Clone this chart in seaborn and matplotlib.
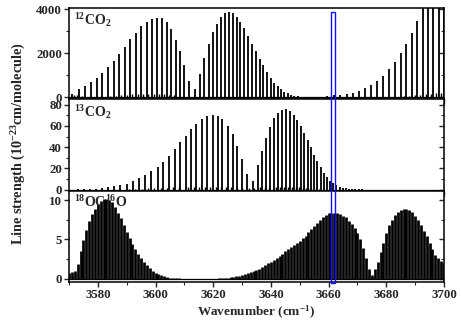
import numpy as np
import matplotlib
matplotlib.use("Agg")
import matplotlib.pyplot as plt
import seaborn as sns
from matplotlib.patches import Rectangle
from matplotlib.transforms import blended_transform_factory
from matplotlib.ticker import MultipleLocator

# ---------------- data ----------------
# 12CO2 strong lines: wavenumber (cm-1), strength (1e-23 cm/molecule)
co2_12_x = [3571.2, 3573.5, 3575.6, 3577.6, 3579.6, 3581.6, 3583.5, 3585.5, 3587.5,
            3589.3, 3591.3, 3593.2, 3595.1, 3597.0, 3598.8, 3600.6, 3602.2, 3603.8,
            3605.4, 3607.0, 3608.6, 3610.0, 3611.7,
            3613.75, 3615.4, 3616.9, 3618.4, 3619.9, 3621.3, 3622.7, 3624.1, 3625.4,
            3626.7, 3628.1, 3629.4, 3630.8, 3632.2, 3633.5, 3634.8, 3636.1, 3637.4,
            3638.6, 3639.9, 3641.2, 3642.3, 3643.5, 3644.6, 3645.8, 3647.0, 3648.1,
            3649.3, 3650.4, 3651.6,
            3657.2, 3659.6, 3661.8, 3664.1, 3666.3, 3668.5, 3670.6, 3672.7, 3674.8,
            3676.8, 3678.9, 3681.0, 3683.1, 3685.0, 3687.0, 3688.9, 3690.7, 3692.6,
            3694.4, 3696.3, 3698.1, 3699.9]
co2_12_y = [170, 395, 530, 697, 894, 1121, 1363, 1651, 1954,
            2288, 2636, 2909, 3227, 3424, 3545, 3590, 3575, 3424,
            3090, 2621, 2091, 1454, 742,
            364, 1076, 1803, 2439, 2970, 3318, 3651, 3802, 3863,
            3833, 3651, 3393, 3121, 2788, 2439, 2106, 1757, 1454,
            1151, 894, 666, 500, 364, 258, 182, 121, 76,
            40, 25, 15,
            30, 60, 90, 121, 152, 212, 303, 424, 576,
            742, 985, 1288, 1621, 2000, 2439, 2939, 3439, 4600,
            5200, 5800, 6300, 6800]
# 12CO2 weak (hot-band) lines near the baseline
co2_12w_x = [3571.9, 3572.8, 3574.5, 3584.3, 3586.2, 3588.1, 3590.0, 3591.9, 3593.8,
             3595.6, 3597.5, 3599.3, 3601.1, 3602.9, 3604.6, 3606.3, 3686.0, 3688.0,
             3689.9, 3691.8, 3693.6, 3695.4, 3697.2, 3699.0]
co2_12w_y = [110, 90, 70, 60, 80, 100, 120, 130, 140,
             150, 150, 145, 140, 130, 110, 90, 60, 80,
             100, 120, 140, 160, 180, 200]

# 13CO2 lines
co2_13_x = [3573.1, 3575.2, 3577.3, 3579.4, 3581.5, 3583.5, 3585.6, 3587.7, 3590.0,
            3592.2, 3594.3, 3596.5, 3598.6, 3600.7, 3602.7, 3604.8, 3606.8, 3608.6,
            3610.5, 3612.4, 3614.2, 3616.1, 3617.9, 3619.8, 3621.5, 3623.2, 3625.0,
            3626.7, 3628.3, 3630.0, 3631.6, 3633.8, 3635.5, 3636.9, 3638.4, 3639.8,
            3641.2, 3642.6, 3644.0, 3645.3, 3646.6, 3647.9, 3649.2, 3650.3, 3651.6,
            3652.7, 3653.9, 3655.0, 3656.1, 3657.2, 3658.3, 3659.4, 3660.5, 3661.6,
            3662.7, 3663.8, 3664.9, 3666.0, 3667.1, 3668.2, 3669.3, 3670.4, 3671.5]
co2_13_y = [0.2, 0.3, 0.45, 0.6, 1.3, 2.2, 3.5, 4.4, 5.7,
            7.9, 10.5, 14.0, 17.1, 21.3, 26.0, 31.4, 37.8, 44.4,
            50.5, 57.5, 61.9, 66.7, 69.5, 70.5, 69.2, 66.3, 60.0,
            52.4, 41.3, 29.2, 14.9, 7.9, 22.9, 36.2, 48.9, 58.7,
            67.0, 72.0, 74.9, 75.5, 73.7, 70.5, 65.4, 59.7, 53.0,
            46.7, 39.7, 33.0, 27.0, 21.0, 16.0, 12.0, 8.5, 6.0,
            4.0, 2.7, 1.8, 1.1, 0.7, 0.4, 0.25, 0.15, 0.1]
co2_13w_x = [3590.8, 3593.0, 3595.2, 3597.4, 3599.6, 3601.8, 3603.9, 3606.0, 3608.1,
             3611.4, 3613.3, 3615.2, 3617.1, 3619.0, 3620.9, 3622.7, 3624.5, 3626.3,
             3628.1, 3629.8, 3632.5, 3634.3, 3636.1, 3637.8, 3639.5, 3641.9, 3643.3,
             3644.7, 3646.0, 3647.3, 3648.6, 3649.9, 3651.1, 3652.3, 3653.5, 3654.6,
             3655.7, 3656.8]
co2_13w_y = [0.6, 0.8, 1.0, 1.2, 1.4, 1.6, 1.8, 2.0, 2.1,
             2.2, 2.4, 2.5, 2.6, 2.6, 2.5, 2.4, 2.2, 2.0,
             1.6, 1.2, 1.3, 1.7, 2.1, 2.4, 2.6, 2.8, 2.8,
             2.7, 2.6, 2.4, 2.2, 2.0, 1.7, 1.4, 1.1, 0.8,
             0.6, 0.4]

# 18OC16O (dense lines), one value per cm-1 from 3570 to 3700
oc_x = list(range(3570, 3701))
oc_y = [0.8, 0.9, 1.0, 1.9, 3.5, 4.9, 6.2, 7.3, 8.2, 8.9,
        9.5, 9.9, 10.1, 10.2, 10.0, 9.7, 9.1, 8.4, 7.7, 6.9,
        6.0, 5.2, 4.4, 3.8, 3.2, 2.6, 2.1, 1.7, 1.35, 1.0,
        0.8, 0.6, 0.45, 0.33, 0.24, 0.17, 0.12, 0.08, 0.06, 0.04,
        0.03, 0.03, 0.02, 0.02, 0.02, 0.02, 0.02, 0.02, 0.02, 0.02,
        0.03, 0.04, 0.06, 0.08, 0.11, 0.15, 0.2, 0.26, 0.33, 0.42,
        0.5, 0.6, 0.72, 0.86, 1.0, 1.15, 1.3, 1.5, 1.7, 1.95,
        2.2, 2.45, 2.7, 2.95, 3.2, 3.5, 3.75, 4.0, 4.3, 4.55,
        4.8, 5.2, 5.5, 5.9, 6.3, 6.7, 7.1, 7.5, 7.8, 8.1,
        8.3, 8.4, 8.4, 8.35, 8.2, 8.0, 7.8, 7.4, 7.0, 6.4,
        5.8, 5.1, 3.9, 2.6, 1.3, 0.5, 1.2, 2.2, 3.4, 4.6,
        5.8, 6.8, 7.5, 8.1, 8.5, 8.8, 8.9, 8.9, 8.7, 8.5,
        8.0, 7.5, 6.9, 6.1, 5.5, 4.6, 3.8, 3.0, 2.6, 2.3,
        2.0]

panel_labels = [r"$^{12}$CO$_2$", r"$^{13}$CO$_2$", r"$^{18}$OC$^{16}$O"]
x_ticks = [3580, 3600, 3620, 3640, 3660, 3680, 3700]
box_range = (3660.7, 3662.1)

# ---------------- style ----------------
sns.set_style("ticks")
plt.rcParams["font.family"] = ["Liberation Serif", "DejaVu Serif"]
plt.rcParams["font.weight"] = "bold"
plt.rcParams["mathtext.fontset"] = "custom"
plt.rcParams["mathtext.rm"] = "Liberation Serif:bold"
plt.rcParams["mathtext.it"] = "Liberation Serif:bold"
plt.rcParams["mathtext.bf"] = "Liberation Serif:bold"
plt.rcParams["mathtext.default"] = "rm"

W, H = 461, 323
fig = plt.figure(figsize=(W / 100, H / 100), dpi=100)
left, right = 69 / W, 444 / W
top, bottom = 1 - 8 / H, 1 - 282 / H
gs = fig.add_gridspec(3, 1, left=left, right=right, top=top, bottom=bottom, hspace=0)
axes = [fig.add_subplot(gs[i]) for i in range(3)]

ylims = [(-90, 4050), (-1, 85), (-0.4, 11.2)]
ymaj = [2000, 20, 5]
ymin = [1000, 10, 2.5]

ax1, ax2, ax3 = axes
ax1.vlines(co2_12w_x, 0, co2_12w_y, color="black", lw=1.0)
ax1.vlines(co2_12_x, 0, co2_12_y, color="black", lw=1.3)
ax2.vlines(co2_13w_x, 0, co2_13w_y, color="black", lw=1.0)
ax2.vlines(co2_13_x, 0, co2_13_y, color="black", lw=1.3)
ax3.vlines(oc_x, 0, oc_y, color="black", lw=1.95)

for i, ax in enumerate(axes):
    ax.axhline(0, color="black", lw=0.9)
    ax.set_xlim(3570, 3700)
    ax.set_ylim(*ylims[i])
    ax.xaxis.set_major_locator(MultipleLocator(20))
    ax.xaxis.set_minor_locator(MultipleLocator(10))
    ax.yaxis.set_major_locator(MultipleLocator(ymaj[i]))
    ax.yaxis.set_minor_locator(MultipleLocator(ymin[i]))
    ax.tick_params(axis="both", which="major", direction="out", length=3.5, width=1.0,
                   labelsize=9.3, pad=1.5)
    ax.tick_params(axis="both", which="minor", direction="out", length=2, width=0.8)
    ax.tick_params(axis="y", right=True, which="both")
    for lab in ax.get_yticklabels() + ax.get_xticklabels():
        lab.set_fontweight("bold")
    for s in ax.spines.values():
        s.set_linewidth(1.1)
        s.set_color("black")
    ax.text(0.012, 0.965, panel_labels[i], transform=ax.transAxes, ha="left", va="top",
            fontsize=10, fontweight="bold")
    if i < 2:
        ax.tick_params(axis="x", labelbottom=False)

# right-side ticks point inward
for ax in axes:
    for t in ax.yaxis.get_major_ticks() + ax.yaxis.get_minor_ticks():
        t.tick2line.set_marker(matplotlib.lines.TICKLEFT)

ax3.set_xticks(x_ticks)
ax3.set_xticklabels([str(v) for v in x_ticks], fontweight="bold")
ax3.set_xlabel("Wavenumber (cm$^{-1}$)", fontsize=9.5, fontweight="bold", labelpad=2)
fig.text(19 / W, 1 - 144 / H, "Line strength (10$^{-23}$cm/molecule)", rotation=90,
         ha="center", va="center", fontsize=10.3, fontweight="bold")

trans = blended_transform_factory(ax3.transData, fig.transFigure)
rect = Rectangle((box_range[0], 1 - 283 / H), box_range[1] - box_range[0],
                 (283 - 12) / H, transform=trans, fill=False, edgecolor="#1010ff",
                 lw=1.0, clip_on=False, zorder=10)
fig.add_artist(rect)

fig.savefig("out.png", dpi=100)
